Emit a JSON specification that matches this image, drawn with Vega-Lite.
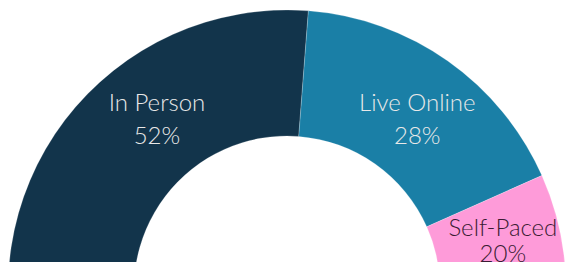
{
  "$schema": "https://vega.github.io/schema/vega-lite/v6.json",
  "width": 574,
  "height": 578,
  "autosize": "none",
  "padding": 0,
  "background": "#ffffff",
  "view": {"stroke": null},
  "data": {
    "values": [
      {"mode": "In Person", "pct": 52, "label": "In Person\n52%"},
      {"mode": "Live Online", "pct": 28, "label": "Live Online\n28%"},
      {"mode": "Self-Paced", "pct": 20, "label": "Self-Paced\n20%"}
    ]
  },
  "encoding": {
    "theta": {"field": "pct", "type": "quantitative", "stack": true, "scale": {"range": [-1.9199, 1.9199]}},
    "order": {"field": "mode", "sort": "ascending"}
  },
  "layer": [
    {
      "mark": {"type": "arc", "outerRadius": 279, "innerRadius": 153, "stroke": "#ffffff", "strokeWidth": 0.6, "strokeOpacity": 0.35},
      "encoding": {
        "color": {"field": "mode", "type": "nominal", "legend": null,
          "scale": {"domain": ["In Person", "Live Online", "Self-Paced"], "range": ["#12344b", "#1a7fa6", "#fe9bd9"]}}
      }
    },
    {
      "mark": {"type": "text", "radius": 226, "dx": 50, "dy": -48, "font": "Lato", "fontWeight": 300, "fontSize": 24, "lineBreak": "\n", "lineHeight": 33, "baseline": "middle", "color": "#e8e8e8"},
      "encoding": {
        "text": {"condition": {"test": "datum.mode === 'In Person'", "field": "label"}, "value": ""}
      }
    },
    {
      "mark": {"type": "text", "radius": 226, "font": "Lato", "fontWeight": 300, "fontSize": 24, "lineBreak": "\n", "lineHeight": 33, "baseline": "middle", "color": "#e8e8e8"},
      "encoding": {
        "text": {"condition": {"test": "datum.mode === 'Live Online'", "field": "label"}, "value": ""}
      }
    },
    {
      "mark": {"type": "text", "radius": 226, "dx": -10, "dy": -52, "font": "Lato", "fontWeight": 300, "fontSize": 24, "lineBreak": "\n", "lineHeight": 26, "baseline": "middle", "color": "#3b1b33"},
      "encoding": {
        "text": {"condition": {"test": "datum.mode === 'Self-Paced'", "field": "label"}, "value": ""}
      }
    }
  ]
}
